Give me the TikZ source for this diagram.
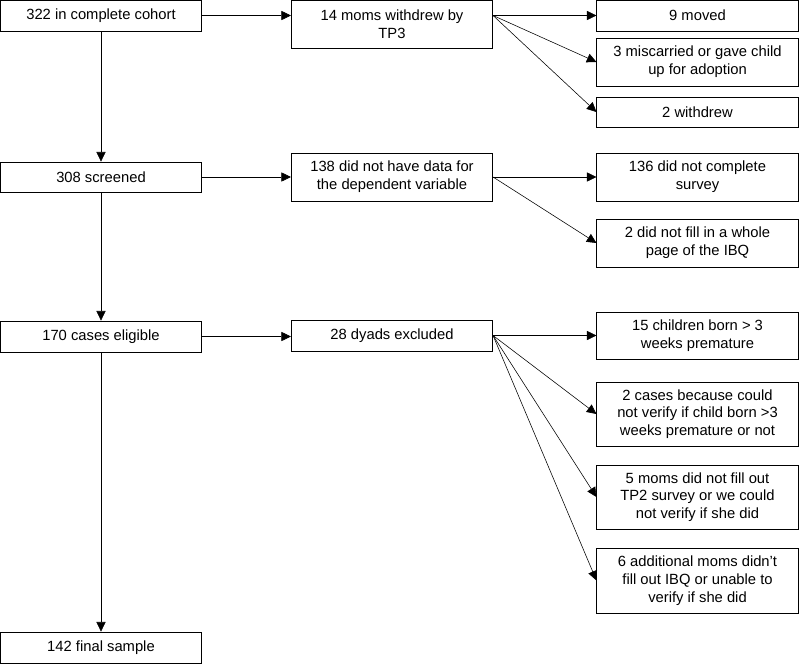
\documentclass[tikz,border=0pt]{standalone}
\usepackage{fontspec}
\setmainfont{Liberation Sans}
\usepackage{tikz}
\usetikzlibrary{arrows.meta, positioning}

\tikzset{
  caja/.style={draw, line width=0.6pt, align=center, inner sep=0pt,
    minimum width=5.03cm, font=\fontsize{10.5}{12.6}\selectfont},
  flecha/.style={-{Triangle[length=2.4mm,width=2.3mm]}, line width=0.4pt}
}

\begin{document}
\begin{tikzpicture}[x=0.025cm, y=-0.025cm]
  \useasboundingbox (0,0) rectangle (800,664);

  % Columna principal
  \node[caja, minimum height=0.775cm] (cohort)   at (101,15.5)  {322 in complete cohort};
  \node[caja, minimum height=0.75cm]  (screened) at (101,177)   {308 screened};
  \node[caja, minimum height=0.775cm] (eligible) at (101,336.5) {170 cases eligible};
  \node[caja, minimum height=0.775cm] (final)    at (101,647.5) {142 final sample};

  % Exclusiones
  \node[caja, minimum height=1.2cm]   (withdrew) at (392,24)    {14 moms withdrew by\\TP3};
  \node[caja, minimum height=1.2cm]   (nodata)   at (392,177)   {138 did not have data for\\the dependent variable};
  \node[caja, minimum height=0.775cm] (excluded) at (392,335.5) {28 dyads excluded};

  % Motivos
  \node[caja, minimum height=0.775cm] (moved)    at (697.5,15.5)  {9 moved};
  \node[caja, minimum height=1.2cm]   (miscarr)  at (697.5,62)    {3 miscarried or gave child\\up for adoption};
  \node[caja, minimum height=0.75cm]  (left)     at (697.5,112)   {2 withdrew};
  \node[caja, minimum height=1.2cm]   (survey)   at (697.5,177)   {136 did not complete\\survey};
  \node[caja, minimum height=1.2cm]   (page)     at (697.5,243)   {2 did not fill in a whole\\page of the IBQ};
  \node[caja, minimum height=1.175cm] (premat)   at (697.5,335.5) {15 children born > 3\\weeks premature};
  \node[caja, minimum height=1.6cm]   (verify)   at (697.5,414)   {2 cases because could\\not verify if child born >3\\weeks premature or not};
  \node[caja, minimum height=1.6cm]   (tptwo)    at (697.5,497)   {5 moms did not fill out\\TP2 survey or we could\\not verify if she did};
  \node[caja, minimum height=1.625cm] (ibq)      at (697.5,580.5) {6 additional moms didn’t\\fill out IBQ or unable to\\verify if she did};

  % Flechas verticales
  \draw[flecha] (cohort) -- (screened);
  \draw[flecha] (screened) -- (eligible);
  \draw[flecha] (eligible) -- (final);

  % Flechas horizontales
  \draw[flecha] (cohort.east) -- (cohort.east -| withdrew.west);
  \draw[flecha] (screened) -- (nodata);
  \draw[flecha] (eligible.east) -- (eligible.east -| excluded.west);

  % Abanicos
  \coordinate (f1) at (cohort.east -| withdrew.east);
  \foreach \n in {moved, miscarr, left}
    \draw[flecha] (f1) -- (\n.west);
  \foreach \n in {survey, page}
    \draw[flecha] (nodata.east) -- (\n.west);
  \foreach \n in {premat, verify, tptwo, ibq}
    \draw[flecha] (excluded.east) -- (\n.west);
\end{tikzpicture}
\end{document}
